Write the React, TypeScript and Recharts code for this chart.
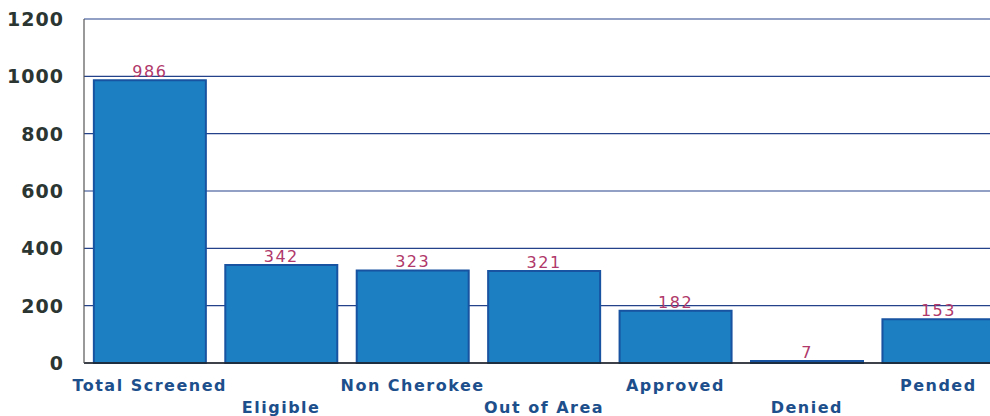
import React from "react";
import { BarChart, Bar, XAxis, YAxis, CartesianGrid, LabelList } from "recharts";

const categories = ["Total Screened", "Eligible", "Non Cherokee", "Out of Area", "Approved", "Denied", "Pended"];
const values = [986, 342, 323, 321, 182, 7, 153];
const yTicks = [0, 200, 400, 600, 800, 1000, 1200];

const data = categories.map((name, i) => ({ name, value: values[i] }));

const XTick = (props: any) => {
  const { x, y, payload, index } = props;
  const dy = index % 2 === 0 ? 20 : 42;
  return (
    <text
      x={x}
      y={y + dy}
      textAnchor="middle"
      fill="#1d4f8c"
      fontFamily="'DejaVu Sans', Verdana, sans-serif"
      fontWeight="bold"
      fontSize={16}
      letterSpacing={1.5}
    >
      {payload.value}
    </text>
  );
};

const YTick = (props: any) => {
  const { x, y, payload } = props;
  return (
    <text
      x={x}
      y={y}
      dy={7}
      textAnchor="end"
      fill="#2b3532"
      fontFamily="'DejaVu Sans', Verdana, sans-serif"
      fontWeight="bold"
      fontSize={19}
      letterSpacing={1}
    >
      {payload.value}
    </text>
  );
};

export default function App() {
  return (
    <div style={{ position: "fixed", left: 0, top: 0, width: 990, height: 416, overflow: "hidden", background: "#fff" }}>
      <BarChart
        width={1010}
        height={416}
        data={data}
        margin={{ top: 19, right: 6, left: 0, bottom: 0 }}
        barCategoryGap="7.5%"
      >
        <CartesianGrid vertical={false} stroke="#24428a" strokeWidth={1.2} />
        <XAxis
          dataKey="name"
          height={53}
          interval={0}
          tick={<XTick />}
          tickLine={false}
          axisLine={{ stroke: "#222", strokeWidth: 1.5 }}
        />
        <YAxis
          width={84}
          domain={[0, 1200]}
          ticks={yTicks}
          tickLine={false}
          tickMargin={14}
          axisLine={{ stroke: "#555", strokeWidth: 1.2 }}
          tick={<YTick />}
        />
        <Bar dataKey="value" fill="#1b7fc2" stroke="#1753a0" strokeWidth={2} isAnimationActive={false}>
          <LabelList
            dataKey="value"
            position="top"
            offset={3}
            fill="#b0386a"
            fontSize={16}
            letterSpacing={1.5}
            fontFamily="'DejaVu Sans', Verdana, sans-serif"
          />
        </Bar>
      </BarChart>
    </div>
  );
}
